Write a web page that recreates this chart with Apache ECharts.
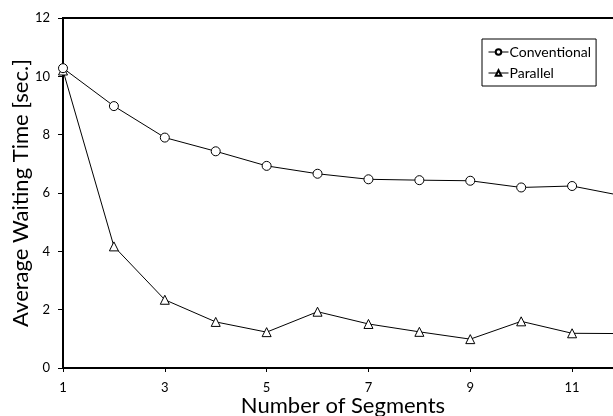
<!DOCTYPE html>
<html><head><meta charset="utf-8">
<script src="https://cdn.jsdelivr.net/npm/echarts@6/dist/echarts.min.js"></script>
<style>html,body{margin:0;padding:0;background:#fff}#c{width:613px;height:416px}</style>
</head><body><div id="c"></div>
<script>
const segments = [1,2,3,4,5,6,7,8,9,10,11,12];
const conventional = [10.28,8.98,7.9,7.43,6.93,6.66,6.47,6.44,6.42,6.19,6.24,5.9];
const parallel = [10.2,4.17,2.34,1.58,1.23,1.93,1.51,1.24,0.99,1.6,1.19,1.18];
const FONT = 'Lato, "Open Sans", sans-serif';
const chart = echarts.init(document.getElementById('c'));
function mk(arr){return segments.map((s,i)=>[s,arr[i]]);}
chart.setOption({
  animation:false,
  backgroundColor:'#fff',
  grid:{left:63,top:18,height:350,width:560,containLabel:false,outerBoundsMode:'none',
        show:true,borderColor:'#000',borderWidth:2,backgroundColor:'transparent'},
  legend:{
    left:482, top:39, orient:'vertical', itemGap:7,
    padding:[6,5,6,6], borderColor:'#000', borderWidth:1,
    itemWidth:20, itemHeight:7,
    lineStyle:{width:1},
    textStyle:{fontFamily:FONT,fontSize:14,color:'#000',padding:[0,0,0,-4]},
    data:['Conventional','Parallel']
  },
  xAxis:{
    type:'value', min:1, max:12, interval:2,
    name:'Number of Segments', nameLocation:'middle', nameGap:27, nameMoveOverlap:false,
    nameTextStyle:{fontFamily:FONT,fontSize:22,color:'#000'},
    axisLine:{lineStyle:{color:'#000',width:2}},
    axisTick:{show:true,length:4,lineStyle:{color:'#000'}},
    axisLabel:{fontFamily:FONT,fontSize:13,color:'#000',margin:13,showMaxLabel:false},
    splitLine:{show:false}
  },
  yAxis:{
    type:'value', min:0, max:12, interval:2,
    name:'Average Waiting Time [sec.]', nameLocation:'middle', nameGap:31, nameMoveOverlap:false,
    nameTextStyle:{fontFamily:FONT,fontSize:22,color:'#000'},
    axisLine:{show:true,lineStyle:{color:'#000',width:2}},
    axisTick:{show:true,length:5,lineStyle:{color:'#000'}},
    axisLabel:{fontFamily:FONT,fontSize:13,color:'#000',margin:13},
    splitLine:{show:false}
  },
  series:[
    {name:'Conventional',type:'line',data:mk(conventional),symbol:'circle',symbolSize:9,
     lineStyle:{color:'#000',width:1},itemStyle:{color:'#fff',borderColor:'#000',borderWidth:1},z:3},
    {name:'Parallel',type:'line',data:mk(parallel),symbol:'triangle',symbolSize:9,
     lineStyle:{color:'#000',width:1},itemStyle:{color:'#fff',borderColor:'#000',borderWidth:1},z:2}
  ]
});
</script></body></html>
